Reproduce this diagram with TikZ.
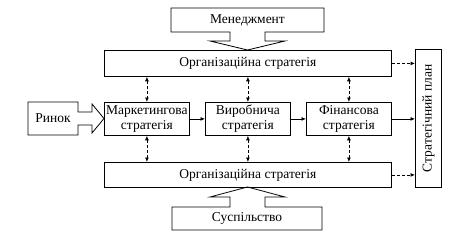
\documentclass[tikz,border=0pt]{standalone}
\usepackage{fontspec}
\setmainfont{Liberation Serif}
\newfontfamily\tnr{Liberation Serif}
\usetikzlibrary{arrows.meta}
\begin{document}
\begin{tikzpicture}[x=1pt,y=-1pt,
  box/.style={draw, line width=0.8pt, inner sep=0pt, anchor=north west},
  lbl/.style={font=\tnr\fontsize{13.5}{15}\selectfont, align=center, inner sep=0pt},
  shp/.style={draw, line width=0.8pt, line join=miter},
  darr/.style={line width=0.8pt, dash pattern=on 3pt off 2pt, {Latex[length=4.5pt,width=4pt]}-{Latex[length=4.5pt,width=4pt]}},
  dsarr/.style={line width=0.8pt, dash pattern=on 3pt off 2pt, -{Latex[length=4.5pt,width=4pt]}},
  sarr/.style={line width=0.8pt, -{Latex[length=4.5pt,width=4pt]}}]
\useasboundingbox (0,0) rectangle (458,238);
% main boxes
\node[box, minimum width=287pt, minimum height=26pt] (org1) at (104,50) {};
\node[lbl] at (org1.center) {Організаційна стратегія};
\node[box, minimum width=85pt, minimum height=33pt] (mark) at (104,102) {};
\node[lbl] at (mark.center) {Маркетингова\\стратегія};
\node[box, minimum width=85pt, minimum height=33pt] (vyr) at (205,102) {};
\node[lbl] at (vyr.center) {Виробнича\\стратегія};
\node[box, minimum width=85pt, minimum height=33pt] (fin) at (306,102) {};
\node[lbl] at (fin.center) {Фінансова\\стратегія};
\node[box, minimum width=287pt, minimum height=25pt] (org2) at (104,162) {};
\node[lbl] at (org2.center) {Організаційна стратегія};
\node[box, minimum width=26pt, minimum height=138pt] (plan) at (415,49) {};
\node[lbl, rotate=90] at (plan.center) {Стратегічний план};
% block arrows
\draw[shp] (171,8) -- (324,8) -- (324,32) -- (265,32) -- (265,41) -- (285,41) -- (247.5,50)
  -- (210,41) -- (230,41) -- (230,32) -- (171,32) -- cycle;
\node[lbl] (men) at (247.5,20) {Менеджмент};
\draw[shp] (172,230) -- (322,230) -- (322,207) -- (265,207) -- (265,197) -- (285,197) -- (247.5,187)
  -- (210,197) -- (230,197) -- (230,207) -- (172,207) -- cycle;
\node[lbl] (sus) at (247,218.5) {Суспільство};
\draw[shp] (28,102) -- (78,102) -- (78,112) -- (92,112) -- (92,104) -- (104,118.5) -- (92,133)
  -- (92,125) -- (78,125) -- (78,135) -- (28,135) -- cycle;
\node[lbl] (rynok) at (53,118.5) {Ринок};
% connectors
\foreach \b in {mark,vyr,fin}{
  \draw[darr] (org1.south -| \b.north) -- (\b.north);
  \draw[darr] (\b.south) -- (org2.north -| \b.south);
}
\draw[sarr] (mark.east) -- (vyr.west);
\draw[sarr] (vyr.east) -- (fin.west);
\draw[sarr] (fin.east) -- (fin.east -| plan.west);
\draw[dsarr] (org1.east) -- (org1.east -| plan.west);
\draw[dsarr] (org2.east) -- (org2.east -| plan.west);
\end{tikzpicture}
\end{document}
